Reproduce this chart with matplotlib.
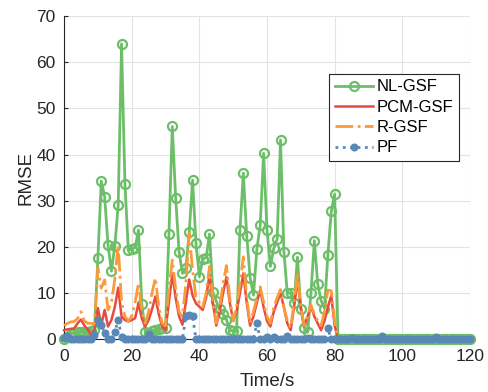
import matplotlib
matplotlib.use("Agg")
import matplotlib.pyplot as plt

plt.rcParams['font.family'] = ['Liberation Sans', 'DejaVu Sans']

time_s = list(range(121))

nl_gsf = [0, 0.5, 1.2, 1.5, 1.6, 1.7, 1.7, 1.7, 1.8, 2.0,
          17.6, 34.3, 30.9, 20.4, 14.8, 20.2, 29.0, 64.0, 33.7, 19.4,
          19.6, 19.9, 23.7, 7.6, 1.7, 1.5, 1.8, 2.0, 2.2, 2.5,
          2.5, 22.8, 46.1, 30.6, 19.0, 14.3, 15.4, 23.2, 34.5, 20.8,
          13.6, 17.4, 17.7, 22.8, 10.2, 8.3, 6.5, 5.5, 4.3, 2.0,
          1.8, 1.8, 23.6, 36.0, 22.5, 13.4, 9.6, 19.5, 24.8, 40.3,
          23.7, 15.8, 19.7, 21.7, 43.2, 19.0, 10.0, 10.1, 7.8, 17.8,
          6.6, 2.5, 1.6, 10.0, 21.4, 12.0, 8.4, 6.7, 18.3, 27.7,
          31.5] + [0.0] * 40

pcm_gsf = [2.0, 2.2, 2.3, 2.4, 3.5, 4.3, 3.0, 2.2, 1.0, 2.0,
           6.8, 3.1, 6.4, 2.8, 4.2, 7.0, 11.2, 5.0, 4.2, 3.9,
           4.2, 4.6, 7.8, 4.5, 2.8, 4.2, 6.5, 9.3, 5.5, 2.8,
           2.0, 8.0, 14.3, 9.0, 5.0, 3.2, 8.0, 13.0, 9.5, 7.8,
           7.1, 6.4, 9.0, 14.0, 8.0, 3.0, 6.0, 10.0, 13.5, 8.0,
           4.0, 6.0, 10.0, 14.3, 8.0, 3.0, 5.0, 8.0, 10.7, 7.0,
           4.0, 2.8, 6.0, 8.0, 10.0, 7.0, 3.5, 2.0, 7.0, 12.9,
           7.0, 2.8, 5.0, 7.1, 5.0, 3.5, 2.0, 4.0, 7.0, 9.5,
           3.0] + [0.0] * 40

r_gsf = [3.0, 3.5, 3.8, 3.9, 4.5, 6.0, 4.0, 3.5, 3.5, 3.3,
         15.5, 11.1, 12.9, 6.4, 8.0, 13.0, 20.5, 8.0, 5.0, 4.0,
         5.0, 8.0, 12.2, 6.0, 3.5, 6.0, 10.0, 13.3, 7.0, 3.5,
         3.0, 11.0, 17.2, 11.0, 6.0, 4.9, 12.0, 23.0, 15.0, 9.0,
         8.0, 7.0, 10.0, 15.8, 9.0, 3.5, 7.0, 12.0, 16.0, 9.0,
         4.0, 7.0, 12.0, 17.9, 9.0, 3.5, 6.0, 9.0, 11.4, 8.0,
         5.0, 3.5, 7.0, 9.0, 10.8, 7.0, 4.0, 2.5, 8.0, 14.3,
         7.0, 3.0, 5.0, 7.5, 5.5, 4.0, 3.0, 6.0, 10.7, 10.5,
         4.0] + [0.0] * 40

pf = [0.3, 0.8, 0, 0, 0, 0, 0, 0, 0, 1.0,
      4.2, 3.1, 1.5, 0, 0, 1.7, 4.2, 0.5, 0, 0,
      0, 0, 0, 0, 0, 1.2, 0, 0, 0, 0,
      0, 0, 0, 0, 0, 0, 5.0, 5.3, 5.0, 0,
      0, 0, 0, 0, 0, 0, 0, 0, 0, 0,
      0, 0, 0, 0, 0, 0, 0, 3.5, 0, 0,
      0.5, 0, 0.6, 0, 0, 0, 0.7, 0, 0, 0,
      0, 0, 0.3, 0, 0, 0, 0, 0, 2.4, 0,
      0, 0, 0, 0, 0, 0.3, 0, 0, 0, 0,
      0, 0, 0, 0, 0.8, 0, 0, 0, 0, 0,
      0, 0, 0, 0, 0, 0, 0, 0, 0, 0,
      0.5, 0, 0, 0, 0, 0, 0, 0, 0, 0,
      0]

labels = ['NL-GSF', 'PCM-GSF', 'R-GSF', 'PF']
c_green = '#6cbf68'
c_red = '#e84a3f'
c_orange = '#fb9a3c'
c_blue = '#5a88b6'

fig = plt.figure(figsize=(4.89, 3.92), dpi=100)
ax = fig.add_axes([0.131, 0.134, 0.830, 0.825])

ax.plot(time_s, nl_gsf, color=c_green, lw=2.0, marker='o', ms=6.5,
        mfc='none', mew=1.6, label=labels[0], zorder=2, clip_on=False)
ax.plot(time_s, pcm_gsf, color=c_red, lw=1.8, label=labels[1], zorder=3,
        clip_on=False)
ax.plot(time_s, r_gsf, color=c_orange, lw=2.0, ls='-.', label=labels[2],
        zorder=3, clip_on=False)
ax.plot(time_s, pf, color=c_blue, lw=2.0, ls=':', marker='o', ms=4.8,
        mfc=c_blue, mec=c_blue, label=labels[3], zorder=4, clip_on=False)

ax.set_xlim(0, 120)
ax.set_ylim(0, 70)
ax.set_xticks(range(0, 121, 20))
ax.set_yticks(range(0, 71, 10))
ax.grid(True, color='#e3e3e3', lw=0.8)
ax.set_axisbelow(True)
for s in ['top', 'right']:
    ax.spines[s].set_visible(False)
for s in ['left', 'bottom']:
    ax.spines[s].set_color('#262626')
    ax.spines[s].set_linewidth(0.8)
ax.tick_params(direction='in', length=3, labelsize=12.5, colors='#262626',
               width=0.8)
ax.tick_params(axis='x', pad=7)
ax.tick_params(axis='y', pad=6)
ax.set_xlabel('Time/s', fontsize=13.5, color='#262626', labelpad=6)
ax.set_ylabel('RMSE', fontsize=13.5, color='#262626', labelpad=1)

leg = ax.legend(loc='upper left', bbox_to_anchor=(0.653, 0.822), fontsize=12,
                frameon=True, fancybox=False, edgecolor='#262626',
                framealpha=1, handlelength=2.3, labelspacing=0.32,
                borderpad=0.35, handletextpad=0.2, borderaxespad=0)
leg.get_frame().set_linewidth(0.8)

fig.savefig('out.png', dpi=100)
